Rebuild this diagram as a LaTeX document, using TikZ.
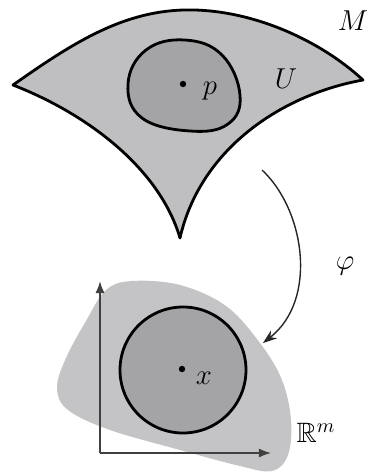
\documentclass[tikz,border=0pt]{standalone}
\usepackage{amssymb}
\usetikzlibrary{arrows.meta}
\definecolor{sheet}{HTML}{BFBFC1}
\definecolor{patch}{HTML}{A4A4A6}
\definecolor{chart}{HTML}{C4C4C6}

\begin{document}
\begin{tikzpicture}[
  x=0.5pt, y=-0.5pt,
  font=\fontsize{14}{16}\selectfont,
  rim/.style  ={draw=black, line width=1.4pt, line join=round},
  axis/.style ={-{Latex[length=6pt, width=4.5pt]}, draw=black!75, line width=0.8pt},
  mapto/.style={-{Stealth[length=7pt, width=5pt]}, draw=black!85, line width=0.7pt},
  lab/.style  ={inner sep=1pt},
]
  \useasboundingbox (0,0) rectangle (366,473);

  % --- manifold M and chart domain U ---
  \filldraw[rim, fill=sheet]
    (13,85) .. controls (70,45) and (120,12) .. (183,10)
            .. controls (250,8) and (320,40) .. (363,80)
            .. controls (280,95) and (200,150) .. (180,238)
            .. controls (160,170) and (90,115) .. (13,85) -- cycle;
  \filldraw[rim, fill=patch] plot[smooth cycle, tension=0.7] coordinates
    {(128,84) (146,50) (185,40) (222,55) (240,95) (228,124) (190,131) (142,118)};
  \coordinate (pt) at (183,84);
  \fill (pt) circle (3.2);
  \node[lab] (lp) at (210,91) {$p$};
  \node[lab] (lU) at (286,79) {$U$};
  \node[lab] (lM) at (353,21) {$M$};

  % --- image in R^m ---
  \fill[chart] plot[smooth cycle, tension=0.6] coordinates
    {(57,388) (66,358) (86,321) (106,290) (132,281) (180,285) (226,306)
     (260,343) (282,380) (291,420) (288,455) (272,471) (240,466) (180,450)
     (110,430) (68,410)};
  \coordinate (orig) at (100,453);
  \coordinate (ytip) at (100,281);
  \coordinate (xtip) at (271,453);
  \draw[axis] (orig) -- (ytip);
  \draw[axis] (orig) -- (xtip);
  \filldraw[rim, fill=patch] (183,370) circle (63);
  \coordinate (xt) at (182,369);
  \fill (xt) circle (3.2);
  \node[lab] (lx) at (204,378) {$x$};
  \node[lab] (lR) at (316,433) {$\mathbb{R}^m$};

  % --- the chart map ---
  \coordinate (mapA) at (262,170);
  \coordinate (mapB) at (263,343);
  \draw[mapto] (mapA) .. controls (305,210) and (318,300) .. (mapB);
  \node[lab] (lphi) at (345,266) {$\varphi$};
\end{tikzpicture}
\end{document}
